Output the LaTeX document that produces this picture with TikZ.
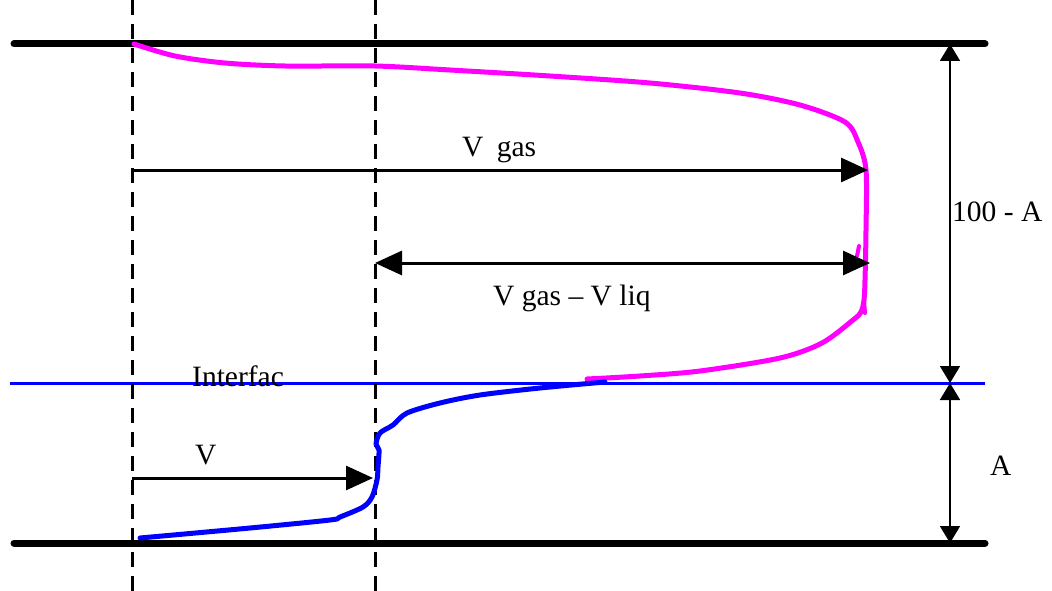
\documentclass[tikz,border=0pt]{standalone}
\usepackage{fontspec}
\setmainfont{Liberation Serif}
\usetikzlibrary{arrows.meta}
\definecolor{mag}{RGB}{255,0,255}
\definecolor{blu}{RGB}{0,0,255}
\tikzset{
  wall/.style={line width=7pt, line cap=round},
  guide/.style={line width=3pt, dash pattern=on 15pt off 9pt},
  velarrow/.style={line width=3pt, -{Triangle[length=27pt,width=24pt]}},
  dimtip/.style={line width=1.8pt, -{Triangle[length=17pt,width=20pt]}},
  lbl/.style={inner sep=0pt, anchor=base west, font=\fontsize{29.5}{34}\selectfont},
  profile/.style={line width=5pt, line cap=round, line join=round}
}
\begin{document}
\begin{tikzpicture}[x=1pt,y=-1pt]
\useasboundingbox (0,0) rectangle (1052,591);
\fill[white] (0,0) rectangle (1052,591);
% walls
\coordinate (tl) at (14,44); \coordinate (tr) at (985,44);
\coordinate (bl) at (14,543); \coordinate (br) at (985,543);
\draw[wall] (tl) -- (tr);
\draw[wall] (bl) -- (br);
% interface
\coordinate (il) at (10,383); \coordinate (ir) at (985,383);
\draw[blu, line width=3pt] (il) -- (ir);
% dashed guides
\coordinate (g1t) at (132,0); \coordinate (g1b) at (132,591);
\coordinate (g2t) at (375,0); \coordinate (g2b) at (375,591);
\draw[guide] (g1t) -- (g1b);
\draw[guide] (g2t) -- (g2b);
% gas profile
\draw[mag, profile] plot[smooth, tension=0.5] coordinates {
 (134,44) (175,56) (225,63) (285,66) (375,66) (450,70) (550,76) (650,83)
 (740,93) (800,105) (845,122) (858,142) (866,170) (866,230) (865,280)
 (864,300) (861,312) (853,320) (822,343) (780,358) (700,371) (640,376) (587,379)};
\draw[mag, line width=4pt, line cap=round] (859,246) -- (857,256);
\draw[mag, line width=4pt, line cap=round] (864,300) -- (865,313);
% liquid profile
\draw[blu, profile] plot[smooth, tension=0.5] coordinates {
 (605,382) (540,388) (480,395) (440,403) (407,413) (393,425) (380,433)
 (376,444) (379,450) (378,467) (377,480) (372,497) (363,507) (340,517)
 (330,520) (250,528) (140,538)};
% velocity arrows
\coordinate (vga) at (132,170); \coordinate (vgb) at (868,170);
\draw[velarrow] (vga) -- (vgb);
\coordinate (vda) at (375,263); \coordinate (vdb) at (870,263);
\draw[velarrow, {Triangle[length=27pt,width=24pt]}-{Triangle[length=27pt,width=24pt]}] (vda) -- (vdb);
\coordinate (vla) at (132,478); \coordinate (vlb) at (373,478);
\draw[velarrow] (vla) -- (vlb);
% dimension line
\coordinate (dt) at (950,44); \coordinate (dm) at (950,383); \coordinate (db) at (950,543);
\coordinate (dmu) at (950,213); \coordinate (dml) at (950,463);
\draw[dimtip] (dmu) -- (dt);
\draw[dimtip] (dmu) -- (dm);
\draw[dimtip] (dml) -- (dm);
\draw[dimtip] (dml) -- (db);
% labels
\node[lbl] (lvgas) at (462,157) {V\hspace{0.45em}gas};
\node[lbl] (lvdiff) at (493,305) {V gas -- V liq};
\node[lbl] (lv) at (195,464) {V};
\node[lbl] (la) at (990,475) {A};
\node[lbl] (l100) at (952,221) {100 - A};
\node[lbl] (lint) at (192,386) {Interfac};
\end{tikzpicture}
\end{document}
